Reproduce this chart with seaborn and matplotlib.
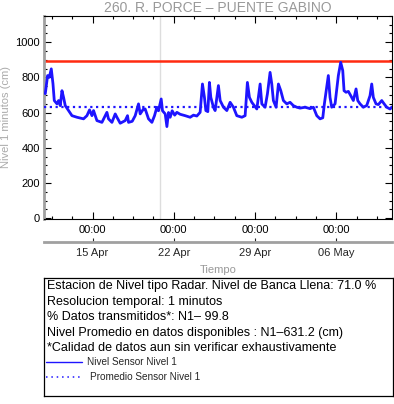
import matplotlib
matplotlib.use("Agg")
from matplotlib import pyplot as plt
import matplotlib.dates as mdates
from matplotlib.ticker import MultipleLocator, FixedLocator, NullLocator
import numpy as np
import pandas as pd
import seaborn as sns

# Data (approximate)
TITLE = "260. R. PORCE \u2013 PUENTE GABINO"
times = [
    "04-10 22:20", "04-11 03:05", "04-11 06:36", "04-11 10:42", "04-11 14:12", "04-11 16:54",
    "04-11 22:30", "04-12 01:48", "04-12 05:18", "04-12 08:48", "04-12 12:06", "04-12 15:36",
    "04-12 22:24", "04-13 05:30", "04-13 15:48", "04-14 05:24", "04-14 12:24", "04-14 17:48",
    "04-14 22:48", "04-15 02:06", "04-15 09:06", "04-15 19:24", "04-16 02:12", "04-16 05:42",
    "04-16 09:00", "04-16 16:06", "04-16 22:54", "04-17 02:24", "04-17 09:12", "04-17 19:30",
    "04-18 00:18", "04-18 02:24", "04-18 10:00", "04-18 16:12", "04-18 23:00", "04-19 02:30",
    "04-19 09:18", "04-19 12:48", "04-19 19:42", "04-20 02:42", "04-20 08:06", "04-20 13:00",
    "04-20 16:18", "04-20 21:54", "04-21 00:36", "04-21 06:12", "04-21 09:42", "04-21 13:00",
    "04-21 16:30", "04-21 20:36", "04-22 01:48", "04-22 06:18", "04-22 13:06", "04-22 23:30",
    "04-23 09:48", "04-23 16:36", "04-23 23:36", "04-24 06:24", "04-24 11:12", "04-24 15:18",
    "04-24 18:12", "04-24 22:18", "04-25 01:36", "04-25 04:30", "04-25 09:54", "04-25 13:24",
    "04-25 20:12", "04-25 23:48", "04-26 06:36", "04-26 13:36", "04-26 20:24", "04-27 03:12",
    "04-27 10:12", "04-27 20:36", "04-28 03:24", "04-28 08:06", "04-28 12:18", "04-28 17:12",
    "04-29 03:36", "04-29 10:24", "04-29 13:54", "04-29 20:42", "04-30 01:30", "04-30 07:00",
    "04-30 10:30", "04-30 13:48", "04-30 19:24", "05-01 00:12", "05-01 05:06", "05-01 10:30",
    "05-01 17:30", "05-02 00:18", "05-02 07:06", "05-02 14:12", "05-02 21:00", "05-03 07:18",
    "05-03 17:36", "05-04 00:30", "05-04 07:30", "05-04 14:18", "05-04 19:54", "05-04 23:12",
    "05-05 04:06", "05-05 07:24", "05-05 10:54", "05-05 14:24", "05-05 21:18", "05-06 04:06",
    "05-06 09:00", "05-06 13:12", "05-06 15:54", "05-06 20:00", "05-07 00:48", "05-07 05:42",
    "05-07 11:06", "05-07 16:42", "05-07 20:12", "05-08 01:00", "05-08 07:48", "05-08 14:48",
    "05-08 21:36", "05-09 01:06", "05-09 04:24", "05-09 10:00", "05-09 14:48", "05-09 21:48",
    "05-10 02:30", "05-10 08:06", "05-10 14:54", "05-10 20:30",
]
levels = [
    707, 810, 800, 848, 764, 668,
    649, 668, 639, 724, 686, 639,
    611, 582, 573, 564, 582, 615,
    582, 611, 554, 544, 582, 601,
    564, 544, 592, 573, 539, 554,
    582, 544, 550, 582, 649, 592,
    620, 620, 564, 544, 582, 630,
    610, 677, 610, 592, 520, 600,
    573, 610, 585, 601, 590, 582,
    573, 585, 580, 601, 762, 686,
    611, 605, 771, 686, 630, 611,
    753, 668, 630, 611, 658, 630,
    582, 573, 582, 771, 686, 658,
    620, 762, 649, 630, 706, 828,
    762, 668, 630, 762, 724, 668,
    649, 658, 639, 630, 625, 630,
    622, 630, 582, 564, 570, 649,
    743, 810, 686, 630, 649, 810,
    885, 838, 724, 715, 720, 696,
    668, 734, 668, 649, 630, 640,
    696, 762, 686, 649, 645, 668,
    650, 630, 620, 633,
]
banca_llena = 890.0
nivel_promedio = 631.2
marker_time = "2019-04-20 20:00"
info_lines = [
    "Estacion de Nivel tipo Radar. Nivel de Banca Llena: 71.0 %",
    "Resolucion temporal: 1 minutos",
    "% Datos transmitidos*: N1\u2013 99.8",
    "Nivel Promedio en datos disponibles : N1\u2013631.2 (cm)",
    "*Calidad de datos aun sin verificar exhaustivamente",
]
legend_labels = ["Nivel Sensor Nivel 1", "Promedio Sensor Nivel 1"]

sns.set_style("ticks")
plt.rcParams['font.family'] = ['Liberation Sans', 'DejaVu Sans']

df = pd.DataFrame({"tiempo": pd.to_datetime(["2019-" + t for t in times]), "nivel": levels})

W, H = 394, 404
fig = plt.figure(figsize=(W / 100, H / 100), dpi=100)
ax = fig.add_axes([44 / W, 1 - 219 / H, (392 - 44) / W, (219 - 15.7) / H])

line_color = "#1e14ff"
ax.axvline(pd.Timestamp(marker_time), color="#dddddd", lw=1, zorder=1)
ax.axhline(banca_llena, color="#ff2a10", lw=1.8, zorder=2)
ax.axhline(nivel_promedio, color=line_color, lw=1.6, ls=(0, (1, 1.6)), zorder=3)
sns.lineplot(data=df, x="tiempo", y="nivel", ax=ax, color=line_color, lw=2, zorder=4)

ax.set_xlim(pd.Timestamp("2019-04-10 19:40"), pd.Timestamp("2019-05-10 19:00"))
ax.set_ylim(-5, 1150)
ax.yaxis.set_major_locator(MultipleLocator(200))
ax.yaxis.set_minor_locator(MultipleLocator(50))

majors = pd.date_range("2019-04-15", periods=4, freq="7D")
minors = pd.date_range("2019-04-08", "2019-05-13", freq="42h")
ax.xaxis.set_major_locator(FixedLocator(mdates.date2num(majors)))
ax.xaxis.set_minor_locator(FixedLocator(mdates.date2num(minors)))
ax.xaxis.set_major_formatter(mdates.DateFormatter("%H:%M"))

ax.tick_params(which="both", direction="in", top=True, right=True, labelsize=8, colors="black", pad=4)
ax.tick_params(which="major", length=5, width=0.8)
ax.tick_params(which="minor", length=2.5, width=0.8)
ax.tick_params(axis="y", pad=3)
for side in ["top", "right", "bottom"]:
    ax.spines[side].set_color("black")
    ax.spines[side].set_linewidth(0.8)
ax.spines["left"].set_color("#a0a0a0")
ax.spines["left"].set_linewidth(2)

ax.set_xlabel("Tiempo", color="#999999", fontsize=8, labelpad=22)
ax.set_ylabel("Nivel 1 minutos (cm)", color="#aaaaaa", fontsize=8, labelpad=3)
ax.set_title(TITLE, color="#999999", fontsize=10, pad=3)

# second row of date labels
sec = ax.secondary_xaxis(-0.113)
sec.xaxis.set_major_locator(FixedLocator(mdates.date2num(majors)))
sec.xaxis.set_minor_locator(NullLocator())
sec.xaxis.set_major_formatter(mdates.DateFormatter("%d %b"))
sec.tick_params(direction="in", length=3, width=0.8, labelsize=8, pad=4)
sec.spines["bottom"].set_color("#a0a0a0")
sec.spines["bottom"].set_linewidth(2)

# info box
box = fig.add_axes([44 / W, 1 - 396 / H, (393 - 44) / W, (396 - 278) / H])
box.set_xticks([])
box.set_yticks([])
for s in box.spines.values():
    s.set_color("black")
    s.set_linewidth(0.9)
box.set_xlim(0, 1)
box.set_ylim(0, 1)


def by(py):
    return (396 - py) / 118


for py, txt in zip([286, 301.7, 316.7, 332.7, 348.3], info_lines):
    box.text(0.008, by(py), txt, fontsize=9, va="center", ha="left", color="black")

box.plot([0.006, 0.108], [by(362.3)] * 2, color=line_color, lw=1)
box.plot([0.006, 0.108], [by(377.3)] * 2, color=line_color, lw=1.1, ls=(0, (1, 2.5)))
box.text(0.122, by(362.3), legend_labels[0], fontsize=7.2, va="center", ha="left")
box.text(0.132, by(377.3), legend_labels[1], fontsize=7.2, va="center", ha="left")

fig.savefig("out.png", dpi=100)
